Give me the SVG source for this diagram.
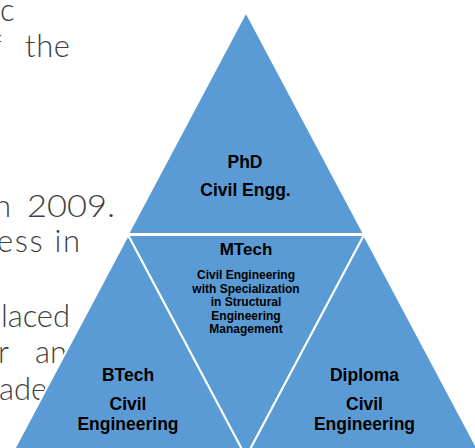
<svg xmlns="http://www.w3.org/2000/svg" width="475" height="448" viewBox="0 0 475 448">
  <style>
    .bg { font-family: Lato, "Open Sans", "DejaVu Sans", sans-serif; font-weight: 300; font-size: 31px; fill: #3f3f3f; }
    .tri { fill: #5B9BD5; stroke: #ffffff; stroke-width: 2; stroke-linejoin: miter; }
    .lbl { font-family: "Liberation Sans", Arial, sans-serif; font-weight: bold; fill: #000000; text-anchor: middle; }
    .big { font-size: 17.5px; }
    .small { font-size: 12px; }
  </style>
  <rect width="475" height="448" fill="#ffffff"/>
  <g id="background-text" class="bg">
    <text x="0" y="21">c</text>
    <text x="-9" y="57">f</text>
    <text x="25" y="57" textLength="45">the</text>
    <text x="-6" y="217">n</text>
    <text x="27" y="217" textLength="88" lengthAdjust="spacingAndGlyphs">2009.</text>
    <text x="-3" y="252" textLength="83">ess in</text>
    <text x="1" y="327" textLength="69">laced</text>
    <text x="-2" y="363">r</text>
    <text x="35" y="363">an</text>
    <text x="-1" y="400">ade</text>
  </g>
  <g id="phd">
    <polygon class="tri" points="246,12 128,234 364,234"/>
    <text class="lbl big" x="245" y="168">PhD</text>
    <text class="lbl big" x="245.5" y="196">Civil Engg.</text>
  </g>
  <g id="mtech">
    <polygon class="tri" points="128,235 364,235 246,457"/>
    <text class="lbl" x="246" y="255" font-size="17">MTech</text>
    <text class="lbl small" x="246" y="279">Civil Engineering</text>
    <text class="lbl small" x="246" y="292.5">with Specialization</text>
    <text class="lbl small" x="246" y="306">in Structural</text>
    <text class="lbl small" x="246" y="319.5">Engineering</text>
    <text class="lbl small" x="246" y="333">Management</text>
  </g>
  <g id="btech">
    <polygon class="tri" points="128,235 10,457 246,457"/>
    <text class="lbl big" x="128" y="381">BTech</text>
    <text class="lbl big" x="128" y="410">Civil</text>
    <text class="lbl big" x="128" y="430">Engineering</text>
  </g>
  <g id="diploma">
    <polygon class="tri" points="364,235 246,457 482,457"/>
    <text class="lbl big" x="364.5" y="381">Diploma</text>
    <text class="lbl big" x="364.5" y="410">Civil</text>
    <text class="lbl big" x="364.5" y="430">Engineering</text>
  </g>
  <g id="connectors"/>
</svg>
